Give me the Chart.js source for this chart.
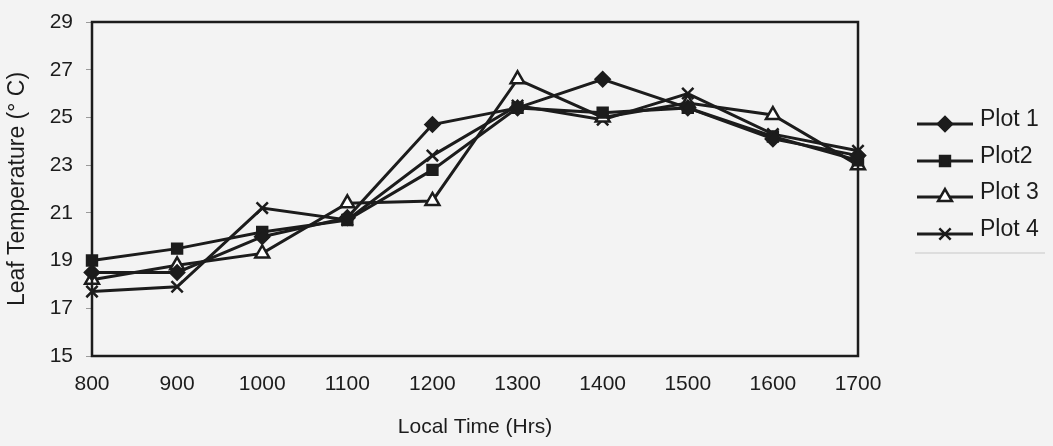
<!DOCTYPE html>
<html>
<head>
<meta charset="utf-8">
<script src="https://cdn.jsdelivr.net/npm/chart.js@4"></script>
<style>
  html, body { margin: 0; padding: 0; background: #f3f3f3; }
  canvas { display: block; }
</style>
</head>
<body>
<canvas id="chart" width="1053" height="446"></canvas>
<script>
// hourly readings, leaf temperature in deg C
const times = ['800', '900', '1000', '1100', '1200', '1300', '1400', '1500', '1600', '1700'];
const plot1 = [18.5, 18.5, 20.0, 20.8, 24.7, 25.4, 26.6, 25.4, 24.1, 23.4];
const plot2 = [19.0, 19.5, 20.2, 20.7, 22.8, 25.4, 25.2, 25.4, 24.2, 23.2];
const plot3 = [18.2, 18.8, 19.3, 21.4, 21.5, 26.6, 25.0, 25.6, 25.1, 23.0];
const plot4 = [17.7, 17.9, 21.2, 20.7, 23.4, 25.5, 24.9, 26.0, 24.3, 23.6];
const yTicks = [15, 17, 19, 21, 23, 25, 27, 29];

const FONT = 'Liberation Sans, Arial, sans-serif';
const INK = '#1c1c1c';

function series(label, data, style, radius, fill) {
  return {
    label, data,
    borderColor: INK,
    borderWidth: 3,
    pointStyle: style,
    pointRadius: radius,
    pointBackgroundColor: fill,
    pointBorderColor: INK,
    pointBorderWidth: 2.5,
    tension: 0
  };
}

// black box round the plot area
const frame = {
  id: 'frame',
  afterDatasetsDraw(chart) {
    const { ctx, chartArea: a } = chart;
    ctx.save();
    ctx.strokeStyle = INK;
    ctx.lineWidth = 2.5;
    ctx.strokeRect(a.left, a.top, a.right - a.left, a.bottom - a.top);
    ctx.restore();
  }
};

// legend with line + marker samples, right of the plot
const sideLegend = {
  id: 'sideLegend',
  afterDraw(chart) {
    const { ctx } = chart;
    const x0 = 917, x1 = 973, tx = 980;
    const rows = [120, 157, 193, 230];
    ctx.save();
    ctx.font = '23px ' + FONT;
    ctx.textBaseline = 'middle';
    chart.data.datasets.forEach((ds, i) => {
      const y = rows[i];
      ctx.strokeStyle = INK;
      ctx.lineWidth = 3;
      ctx.beginPath();
      ctx.moveTo(x0, y + 4);
      ctx.lineTo(x1, y + 4);
      ctx.stroke();
      ctx.fillStyle = ds.pointBackgroundColor;
      ctx.strokeStyle = INK;
      ctx.lineWidth = 2.5;
      Chart.helpers.drawPoint(ctx, {
        pointStyle: ds.pointStyle, radius: ds.pointRadius, borderWidth: 2.5, rotation: 0
      }, 945, y + 4);
      ctx.fillStyle = INK;
      ctx.fillText(ds.label, tx, y);
    });
    // faint rule under the legend block
    ctx.strokeStyle = '#d6d6d6';
    ctx.lineWidth = 1.5;
    ctx.beginPath();
    ctx.moveTo(915, 253);
    ctx.lineTo(1045, 253);
    ctx.stroke();
    ctx.restore();
  }
};

new Chart(document.getElementById('chart'), {
  type: 'line',
  data: {
    labels: times,
    datasets: [
      series('Plot 1', plot1, 'rectRot', 7, INK),
      series('Plot2', plot2, 'rect', 7, INK),
      series('Plot 3', plot3, 'triangle', 8, '#ffffff'),
      series('Plot 4', plot4, 'crossRot', 8, INK)
    ]
  },
  options: {
    responsive: false,
    animation: false,
    layout: { padding: { top: 22, right: 195, bottom: 0, left: 0 } },
    plugins: { legend: { display: false }, tooltip: { enabled: false } },
    scales: {
      x: {
        offset: false,
        grid: { display: false, drawTicks: false },
        border: { display: false },
        ticks: { color: INK, font: { family: FONT, size: 21 }, padding: 16, maxRotation: 0 },
        title: { display: true, text: 'Local Time (Hrs)', color: INK, font: { family: FONT, size: 21 }, padding: { top: 0, bottom: 6 } },
        afterFit: s => { s.height = 90; s.paddingLeft = 0; s.paddingRight = 0; }
      },
      y: {
        min: 15, max: 29,
        afterBuildTicks: s => { s.ticks = yTicks.map(v => ({ value: v })); },
        grid: { drawOnChartArea: false, color: '#9a9a9a', tickLength: 6 },
        border: { display: false },
        ticks: { color: INK, font: { family: FONT, size: 21 }, padding: 13 },
        title: { display: true, text: 'Leaf Temperature (° C)', color: INK, font: { family: FONT, size: 23 }, padding: { top: 4, bottom: 0 } },
        afterFit: s => { s.width = 92; s.paddingTop = 0; s.paddingBottom = 0; }
      }
    }
  },
  plugins: [frame, sideLegend]
});
</script>
</body>
</html>
